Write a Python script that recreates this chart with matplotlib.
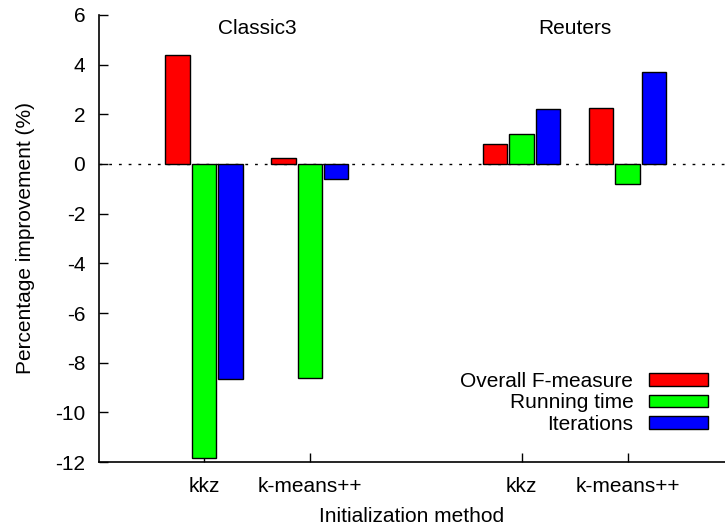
import matplotlib
matplotlib.use("Agg")
import matplotlib.pyplot as plt
import matplotlib.transforms as mtransforms
from matplotlib.patches import Patch
import numpy as np

plt.rcParams['font.family'] = ['Liberation Sans', 'DejaVu Sans']
plt.rcParams['axes.unicode_minus'] = False

datasets = ["Classic3", "Reuters"]
methods = ["kkz", "k-means++"]
series = ["Overall F-measure", "Running time", "Iterations"]
colors = ["#ff0000", "#00ff00", "#0000ff"]

# values per series, order: Classic3 kkz, Classic3 k-means++, Reuters kkz, Reuters k-means++
fmeasure = [4.4, 0.25, 0.8, 2.25]
runtime = [-11.85, -8.6, 1.2, -0.8]
iterations = [-8.65, -0.6, 2.2, 3.7]

pos = np.array([1, 2, 4, 5])
width = 0.23
step = 0.25
fs = 15

fig = plt.figure(figsize=(7.25, 5.3), dpi=100)
ax = fig.add_axes([0.1366, 0.1283, 0.8634, 0.8434])

for i, (vals, col, lab) in enumerate(zip([fmeasure, runtime, iterations], colors, series)):
    ax.bar(pos + (i - 1) * step, vals, width, color=col, edgecolor="black",
           linewidth=1.0, label=lab, zorder=3)

ax.axhline(0, color="black", linestyle=(0, (2, 5)), linewidth=1.0, zorder=2)

ax.set_xlim(0.01, 5.92)
ax.set_ylim(-12, 6)
ax.set_yticks(np.arange(-12, 7, 2))
ax.set_xticks(pos)
ax.set_xticklabels(methods * 2)
ax.tick_params(direction="in", length=6.5, width=1, labelsize=fs)
ax.tick_params(axis="y", pad=10)
ax.tick_params(axis="x", pad=11)
for s in ["top", "right"]:
    ax.spines[s].set_visible(False)
for s in ["left", "bottom"]:
    ax.spines[s].set_linewidth(1.2)

ax.set_xlabel("Initialization method", fontsize=fs, labelpad=8)
ax.set_ylabel("Percentage improvement (%)", fontsize=fs, labelpad=14)

trans = mtransforms.blended_transform_factory(ax.transData, ax.transAxes)
for x, name in zip([1.5, 4.5], datasets):
    ax.text(x, 0.97, name, transform=trans, ha="center", va="center", fontsize=fs)

handles = [Patch(facecolor=c, edgecolor="black", linewidth=1.0) for c in colors]
ax.legend(handles, series, loc="lower right", bbox_to_anchor=(0.99, 0.04),
          frameon=False, markerfirst=False, fontsize=fs, handlelength=2.85,
          handleheight=0.55, handletextpad=0.75, labelspacing=0.12, borderpad=0)

fig.savefig("out.png", dpi=100)
